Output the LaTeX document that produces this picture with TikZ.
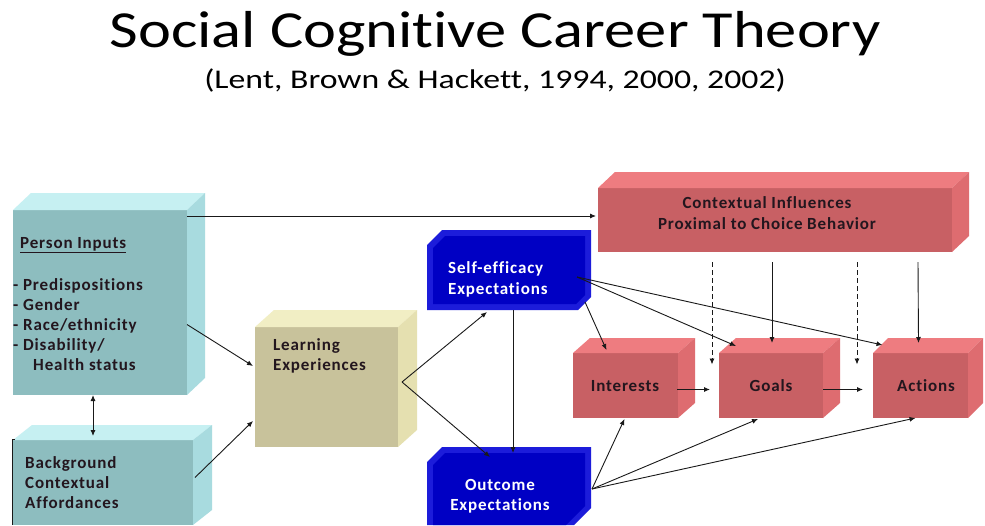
\documentclass[tikz,border=0pt]{standalone}
\usepackage{fontspec}
\setmainfont{Carlito}[Ligatures=NoCommon]
\newfontfamily\labfont{Carlito}[LetterSpace=5,Ligatures=NoCommon]
\newfontfamily\titlefont{Carlito}[FakeStretch=1.2,Ligatures=NoCommon]
\newfontfamily\subtitlefont{Carlito}[FakeStretch=1.25,Ligatures=NoCommon]
\usetikzlibrary{arrows.meta,calc}
\definecolor{tealF}{RGB}{141,189,191}
\definecolor{tealT}{RGB}{198,240,242}
\definecolor{tealR}{RGB}{168,219,223}
\definecolor{khakiF}{RGB}{200,194,155}
\definecolor{khakiT}{RGB}{241,238,196}
\definecolor{khakiR}{RGB}{229,224,176}
\definecolor{redF}{RGB}{200,96,100}
\definecolor{redT}{RGB}{238,124,128}
\definecolor{redR}{RGB}{222,108,112}
\definecolor{blueL}{RGB}{28,28,218}
\definecolor{blueD}{RGB}{0,0,196}
\definecolor{labtext}{RGB}{35,22,30}
\definecolor{linecol}{RGB}{25,25,25}
\newcommand{\boxfaces}[5]{%
  \fill[#2] (#1.north west) -- ++(#4,-#5) -- ($(#1.north east)+(#4,-#5)$) -- (#1.north east) -- cycle;
  \fill[#3] (#1.north east) -- ++(#4,-#5) -- ($(#1.south east)+(#4,-#5)$) -- (#1.south east) -- cycle;
}
\begin{document}
\begin{tikzpicture}[x=1pt,y=-1pt,
  frontbox/.style={rectangle,inner sep=0pt,outer sep=0pt,draw=none},
  lab/.style={inner sep=0pt,font=\labfont\bfseries\fontsize{17}{20}\selectfont,text=labtext},
  wlab/.style={lab,text=white},
  arr/.style={-{Latex[length=6pt,width=5pt]},line width=0.9pt,draw=linecol},
  darr/.style={arr,dash pattern=on 5pt off 3pt},
]
\useasboundingbox (0,0) rectangle (985,525);
\fill[white] (0,0) rectangle (985,525);
\begin{scope}
\clip (0,0) rectangle (985,525);

% titles
\node[inner sep=0pt,anchor=base,font=\titlefont\fontsize{52}{60}\selectfont] (title) at (495,47) {Social Cognitive Career Theory};
\node[inner sep=0pt,anchor=base,font=\subtitlefont\fontsize{27}{32}\selectfont] (subtitle) at (495,88) {(Lent, Brown \& Hackett, 1994, 2000, 2002)};

% cuboid front faces
\node[frontbox,fill=tealF,minimum width=174pt,minimum height=185pt] (pi) at (100,302.5) {};
\boxfaces{pi}{tealT}{tealR}{18}{17}
\node[frontbox,fill=tealF,minimum width=180pt,minimum height=85pt] (bg) at (103,482.5) {};
\boxfaces{bg}{tealT}{tealR}{19}{15}
\node[frontbox,fill=khakiF,minimum width=143pt,minimum height=120pt] (le) at (326.5,387) {};
\boxfaces{le}{khakiT}{khakiR}{19}{17}
\node[frontbox,fill=redF,minimum width=354pt,minimum height=64pt] (ci) at (775,220) {};
\boxfaces{ci}{redT}{redR}{17}{16}
\node[frontbox,fill=redF,minimum width=105pt,minimum height=65pt] (in) at (625.5,385.5) {};
\boxfaces{in}{redT}{redR}{17}{15}
\node[frontbox,fill=redF,minimum width=104pt,minimum height=65pt] (go) at (771,385.5) {};
\boxfaces{go}{redT}{redR}{17}{15}
\node[frontbox,fill=redF,minimum width=95pt,minimum height=65pt] (ac) at (920.5,385.5) {};
\boxfaces{ac}{redT}{redR}{15}{15}

% bevelled blue boxes
\fill[blueL] (427,245) -- (442,230) -- (591,230) -- (591,297) -- (578,310) -- (427,310) -- cycle;
\fill[blueD] (433,248) -- (445,236) -- (585,236) -- (585,295) -- (576,304) -- (433,304) -- cycle;
\node[frontbox,minimum width=164pt,minimum height=80pt] (se) at (509,270) {};
\fill[blueL] (427,462) -- (442,447) -- (591,447) -- (591,508) -- (574,525) -- (427,525) -- cycle;
\fill[blueD] (433,465) -- (445,453) -- (585,453) -- (585,506) -- (566,525) -- (433,525) -- cycle;
\node[frontbox,minimum width=164pt,minimum height=78pt] (oe) at (509,486) {};

% bracket line beside background box
\draw[line width=0.9pt,draw=linecol] (15,439) -- (12,439) -- (12,525);

% labels
\node[lab,anchor=base west] (pihead) at (20,248) {\underline{Person Inputs}};
\node[lab,anchor=base west] (pi1) at (13,290) {- Predispositions};
\node[lab,anchor=base west] (pi2) at (13,310) {- Gender};
\node[lab,anchor=base west] (pi3) at (13,330) {- Race/ethnicity};
\node[lab,anchor=base west] (pi4) at (13,350) {- Disability/};
\node[lab,anchor=base west] (pi5) at (33,370) {Health status};
\node[lab,anchor=base west] (bg1) at (25,468) {Background};
\node[lab,anchor=base west] (bg2) at (25,488) {Contextual};
\node[lab,anchor=base west] (bg3) at (25,508) {Affordances};
\node[lab,anchor=base west] (le1) at (273,350) {Learning};
\node[lab,anchor=base west] (le2) at (273,370) {Experiences};
\node[wlab,anchor=base west] (se1) at (448,273) {Self-efficacy};
\node[wlab,anchor=base west] (se2) at (448,294) {Expectations};
\node[wlab,anchor=base] (oe1) at (500,490) {Outcome};
\node[wlab,anchor=base] (oe2) at (500,510) {Expectations};
\node[lab,anchor=base] (ci1) at (767,208) {Contextual Influences};
\node[lab,anchor=base] (ci2) at (767,229) {Proximal to Choice Behavior};
\node[lab,anchor=base] (inl) at (625,391) {Interests};
\node[lab,anchor=base] (gol) at (771,391) {Goals};
\node[lab,anchor=base] (acl) at (926,391) {Actions};

% connectors
\draw[arr] ($(pi.north east)+(0,6)$) -- ($(ci.west |- pi.north east)+(-2,6)$);
\draw[arr] ($(pi.east)+(0,22)$) -- ($(le.west)+(-2,-21)$);
\draw[arr] ($(bg.east)+(2,-5)$) -- ($(le.west)+(-2,34)$);
\draw[{Latex[length=6pt,width=5pt]}-{Latex[length=6pt,width=5pt]},line width=0.9pt,draw=linecol] ($(pi.south west)+(80,0)$) -- ($(bg.north west)+(80,-4)$);
\draw[arr] ($(le.east)+(4,-5)$) -- ($(se.south)+(-22,2)$);
\draw[arr] ($(le.east)+(4,-5)$) -- ($(oe.north)+(-19,10)$);
\draw[arr] ($(se.south)+(4,0)$) -- ($(oe.north)+(4,6)$);
\draw[arr] ($(se.south east)+(-6,-8)$) -- ($(in.north)+(-19,-3)$);
\draw[arr] ($(se.east)+(-14,7)$) -- ($(go.north)+(-35,-7)$);
\draw[arr] ($(se.east)+(-14,7)$) -- ($(ac.north)+(-38,-8)$);
\draw[arr] ($(ci.south)+(-3,10)$) -- ($(go.north)+(1,-10)$);
\draw[arr] ($(ci.south east)+(-34,10)$) -- ($(ac.north)+(-2,-10)$);
\draw[darr] ($(ci.south west)+(114,10)$) -- ($(go.west)+(-7,-21)$);
\draw[darr] ($(ci.south west)+(259,10)$) -- ($(ac.west)+(-16,-21)$);
\draw[arr] ($(in.east)+(-1,4)$) -- ($(go.west)+(-9,4)$);
\draw[arr] ($(go.east)+(0,4)$) -- ($(ac.west)+(-10,4)$);
\draw[arr] ($(oe.east)+(1,3)$) -- ($(in.south)+(-1,1)$);
\draw[arr] ($(oe.east)+(1,3)$) -- ($(go.south)+(-13,1)$);
\draw[arr] ($(oe.east)+(1,3)$) -- ($(ac.south)+(-5,0)$);
\end{scope}
\end{tikzpicture}
\end{document}
